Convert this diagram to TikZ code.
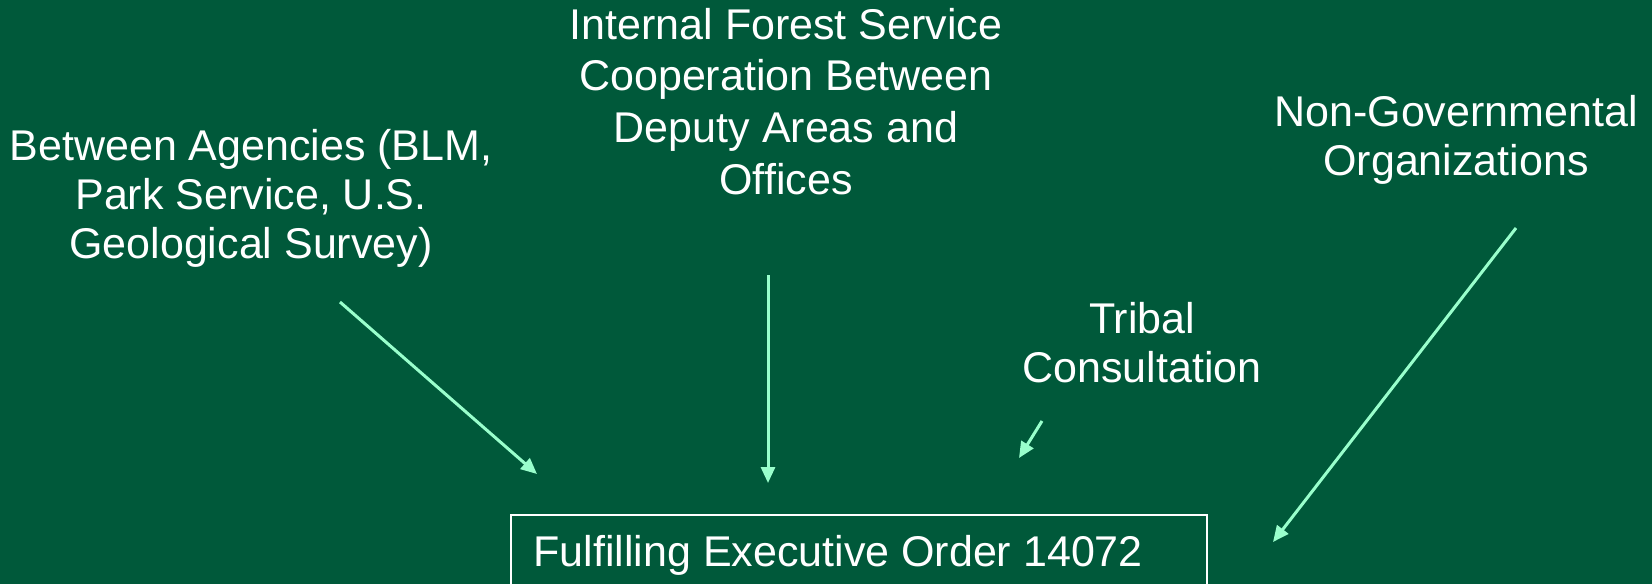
\documentclass[tikz,border=0pt]{standalone}
\usepackage{fontspec}
\setmainfont{Liberation Sans}
\usetikzlibrary{arrows.meta}

\definecolor{forest}{RGB}{0,89,58}
\definecolor{mint}{RGB}{153,255,204}

\tikzset{
    topic/.style={text=white, align=center, inner sep=0pt, anchor=base,
        font=\fontsize{21.5}{24.5}\selectfont},
    feed/.style={draw=mint, line width=1.5pt,
        -{Triangle[length=8pt,width=7pt]}},
}

\begin{document}
\begin{tikzpicture}[x=0.5pt, y=-0.5pt]
        % the background
        \useasboundingbox (0,0) rectangle (1652,584);
        \clip (0,0) rectangle (1652,584);
        \fill[forest] (0,0) rectangle (1652,584);

        % the groups (placed by the baseline of their last line)
        \node[topic] (agencies) at (251,258) {Between Agencies (BLM,\\Park Service, U.S.\\Geological Survey)};
        \node[topic, font=\fontsize{21.5}{25.8}\selectfont] (internal) at (786,194) {Internal Forest Service\\Cooperation Between\\Deputy Areas and\\Offices};
        \node[topic] (tribal) at (1142,382) {Tribal\\Consultation};
        \node[topic] (ngo) at (1456,175) {Non-Governmental\\Organizations};

        % the order box, running off the bottom
        \draw[white, line width=0.8pt] (511,515) rectangle (1207,640);
        \node[topic, anchor=base west] (order) at (533,566) {Fulfilling Executive Order 14072};

        % arrow ends
        \coordinate (a1) at (340,302);
        \coordinate (a2) at (537,474);
        \coordinate (b1) at (768,275);
        \coordinate (b2) at (768,483);
        \coordinate (c1) at (1042,421);
        \coordinate (c2) at (1019,458);
        \coordinate (d1) at (1516,228);
        \coordinate (d2) at (1273,542);

        % the arrows
        \draw[feed] (a1) -- (a2);
        \draw[feed] (b1) -- (b2);
        \draw[feed] (c1) -- (c2);
        \draw[feed] (d1) -- (d2);
    \end{tikzpicture}
\end{document}
